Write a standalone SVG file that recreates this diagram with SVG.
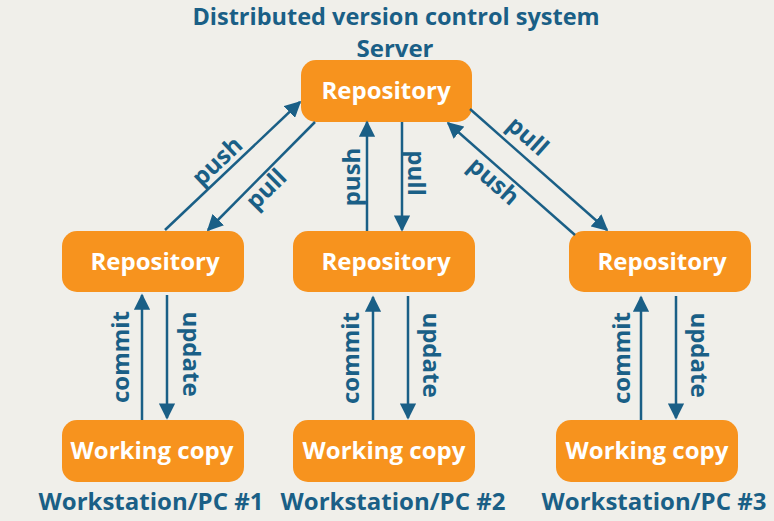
<svg xmlns="http://www.w3.org/2000/svg" width="774" height="521" viewBox="0 0 774 521">
<defs>
<style>
.bg{fill:#f0efea}
.box{fill:#f7931e}
.bt{fill:#ffffff;font-family:"Open Sans","Liberation Sans",sans-serif;font-weight:bold;font-size:24px;text-anchor:middle}
.t{fill:#1a5f86;font-family:"Open Sans","Liberation Sans",sans-serif;font-weight:bold;font-size:24px;text-anchor:middle}
.ln{stroke:#1a5f86;stroke-width:2.5;fill:none;marker-end:url(#ah)}
</style>
<marker id="ah" viewBox="0 0 10 10" refX="9" refY="5" markerWidth="6.5" markerHeight="6.5" orient="auto" markerUnits="strokeWidth">
<path d="M0,0 L10,5 L0,10 z" fill="#1a5f86"/>
</marker>
</defs>
<rect class="bg" x="0" y="0" width="774" height="521"/>
<text class="t" x="396" y="25" style="font-size:23.5px">Distributed version control system</text>
<text class="t" x="395" y="57">Server</text>

<g id="server-repo"><rect class="box" x="301" y="60" width="171" height="62" rx="15"/><text class="bt" x="386" y="99">Repository</text></g>
<g id="repo1"><rect class="box" x="62" y="231" width="182" height="61" rx="15"/><text class="bt" x="155" y="270">Repository</text></g>
<g id="repo2"><rect class="box" x="293" y="231" width="182" height="61" rx="15"/><text class="bt" x="386" y="270">Repository</text></g>
<g id="repo3"><rect class="box" x="569" y="231" width="182" height="61" rx="15"/><text class="bt" x="662" y="270">Repository</text></g>
<g id="wc1"><rect class="box" x="62" y="420" width="182" height="62" rx="15"/><text class="bt" x="152" y="459">Working copy</text></g>
<g id="wc2"><rect class="box" x="293" y="420" width="182" height="62" rx="15"/><text class="bt" x="384" y="459">Working copy</text></g>
<g id="wc3"><rect class="box" x="556" y="420" width="182" height="62" rx="15"/><text class="bt" x="647" y="459">Working copy</text></g>
<g id="ws-labels">
<text class="t" x="151" y="510">Workstation/PC #1</text>
<text class="t" x="393" y="510">Workstation/PC #2</text>
<text class="t" x="654" y="510">Workstation/PC #3</text>
</g>

<g id="connectors">
<line class="ln" x1="165" y1="230" x2="300" y2="102"/>
<line class="ln" x1="315" y1="122" x2="208" y2="230"/>
<line class="ln" x1="367" y1="231" x2="367" y2="122"/>
<line class="ln" x1="402" y1="122" x2="402" y2="230"/>
<line class="ln" x1="575" y1="235" x2="448" y2="123"/>
<line class="ln" x1="470" y1="109" x2="607" y2="230"/>
<line class="ln" x1="142" y1="420" x2="142" y2="295"/>
<line class="ln" x1="167" y1="295" x2="167" y2="418"/>
<line class="ln" x1="373" y1="420" x2="373" y2="297"/>
<line class="ln" x1="408" y1="296" x2="408" y2="418"/>
<line class="ln" x1="641" y1="420" x2="641" y2="297"/>
<line class="ln" x1="676" y1="296" x2="676" y2="418"/>
</g>
<g id="connector-labels">
<text class="t" transform="translate(218,162) rotate(-43.5)" dy="7">push</text>
<text class="t" transform="translate(267,190) rotate(-45)" dy="7">pull</text>
<text class="t" transform="translate(353,177) rotate(-90)" dy="7">push</text>
<text class="t" transform="translate(415,173) rotate(90)" dy="7">pull</text>
<text class="t" transform="translate(527,137) rotate(41.5)" dy="7">pull</text>
<text class="t" transform="translate(493,182) rotate(41.4)" dy="7">push</text>
<text class="t" transform="translate(122,357) rotate(-90)" dy="7">commit</text>
<text class="t" transform="translate(190,354) rotate(90)" dy="7">update</text>
<text class="t" transform="translate(352,358) rotate(-90)" dy="7">commit</text>
<text class="t" transform="translate(430,355) rotate(90)" dy="7">update</text>
<text class="t" transform="translate(623,358) rotate(-90)" dy="7">commit</text>
<text class="t" transform="translate(698,355) rotate(90)" dy="7">update</text>
</g>
</svg>
